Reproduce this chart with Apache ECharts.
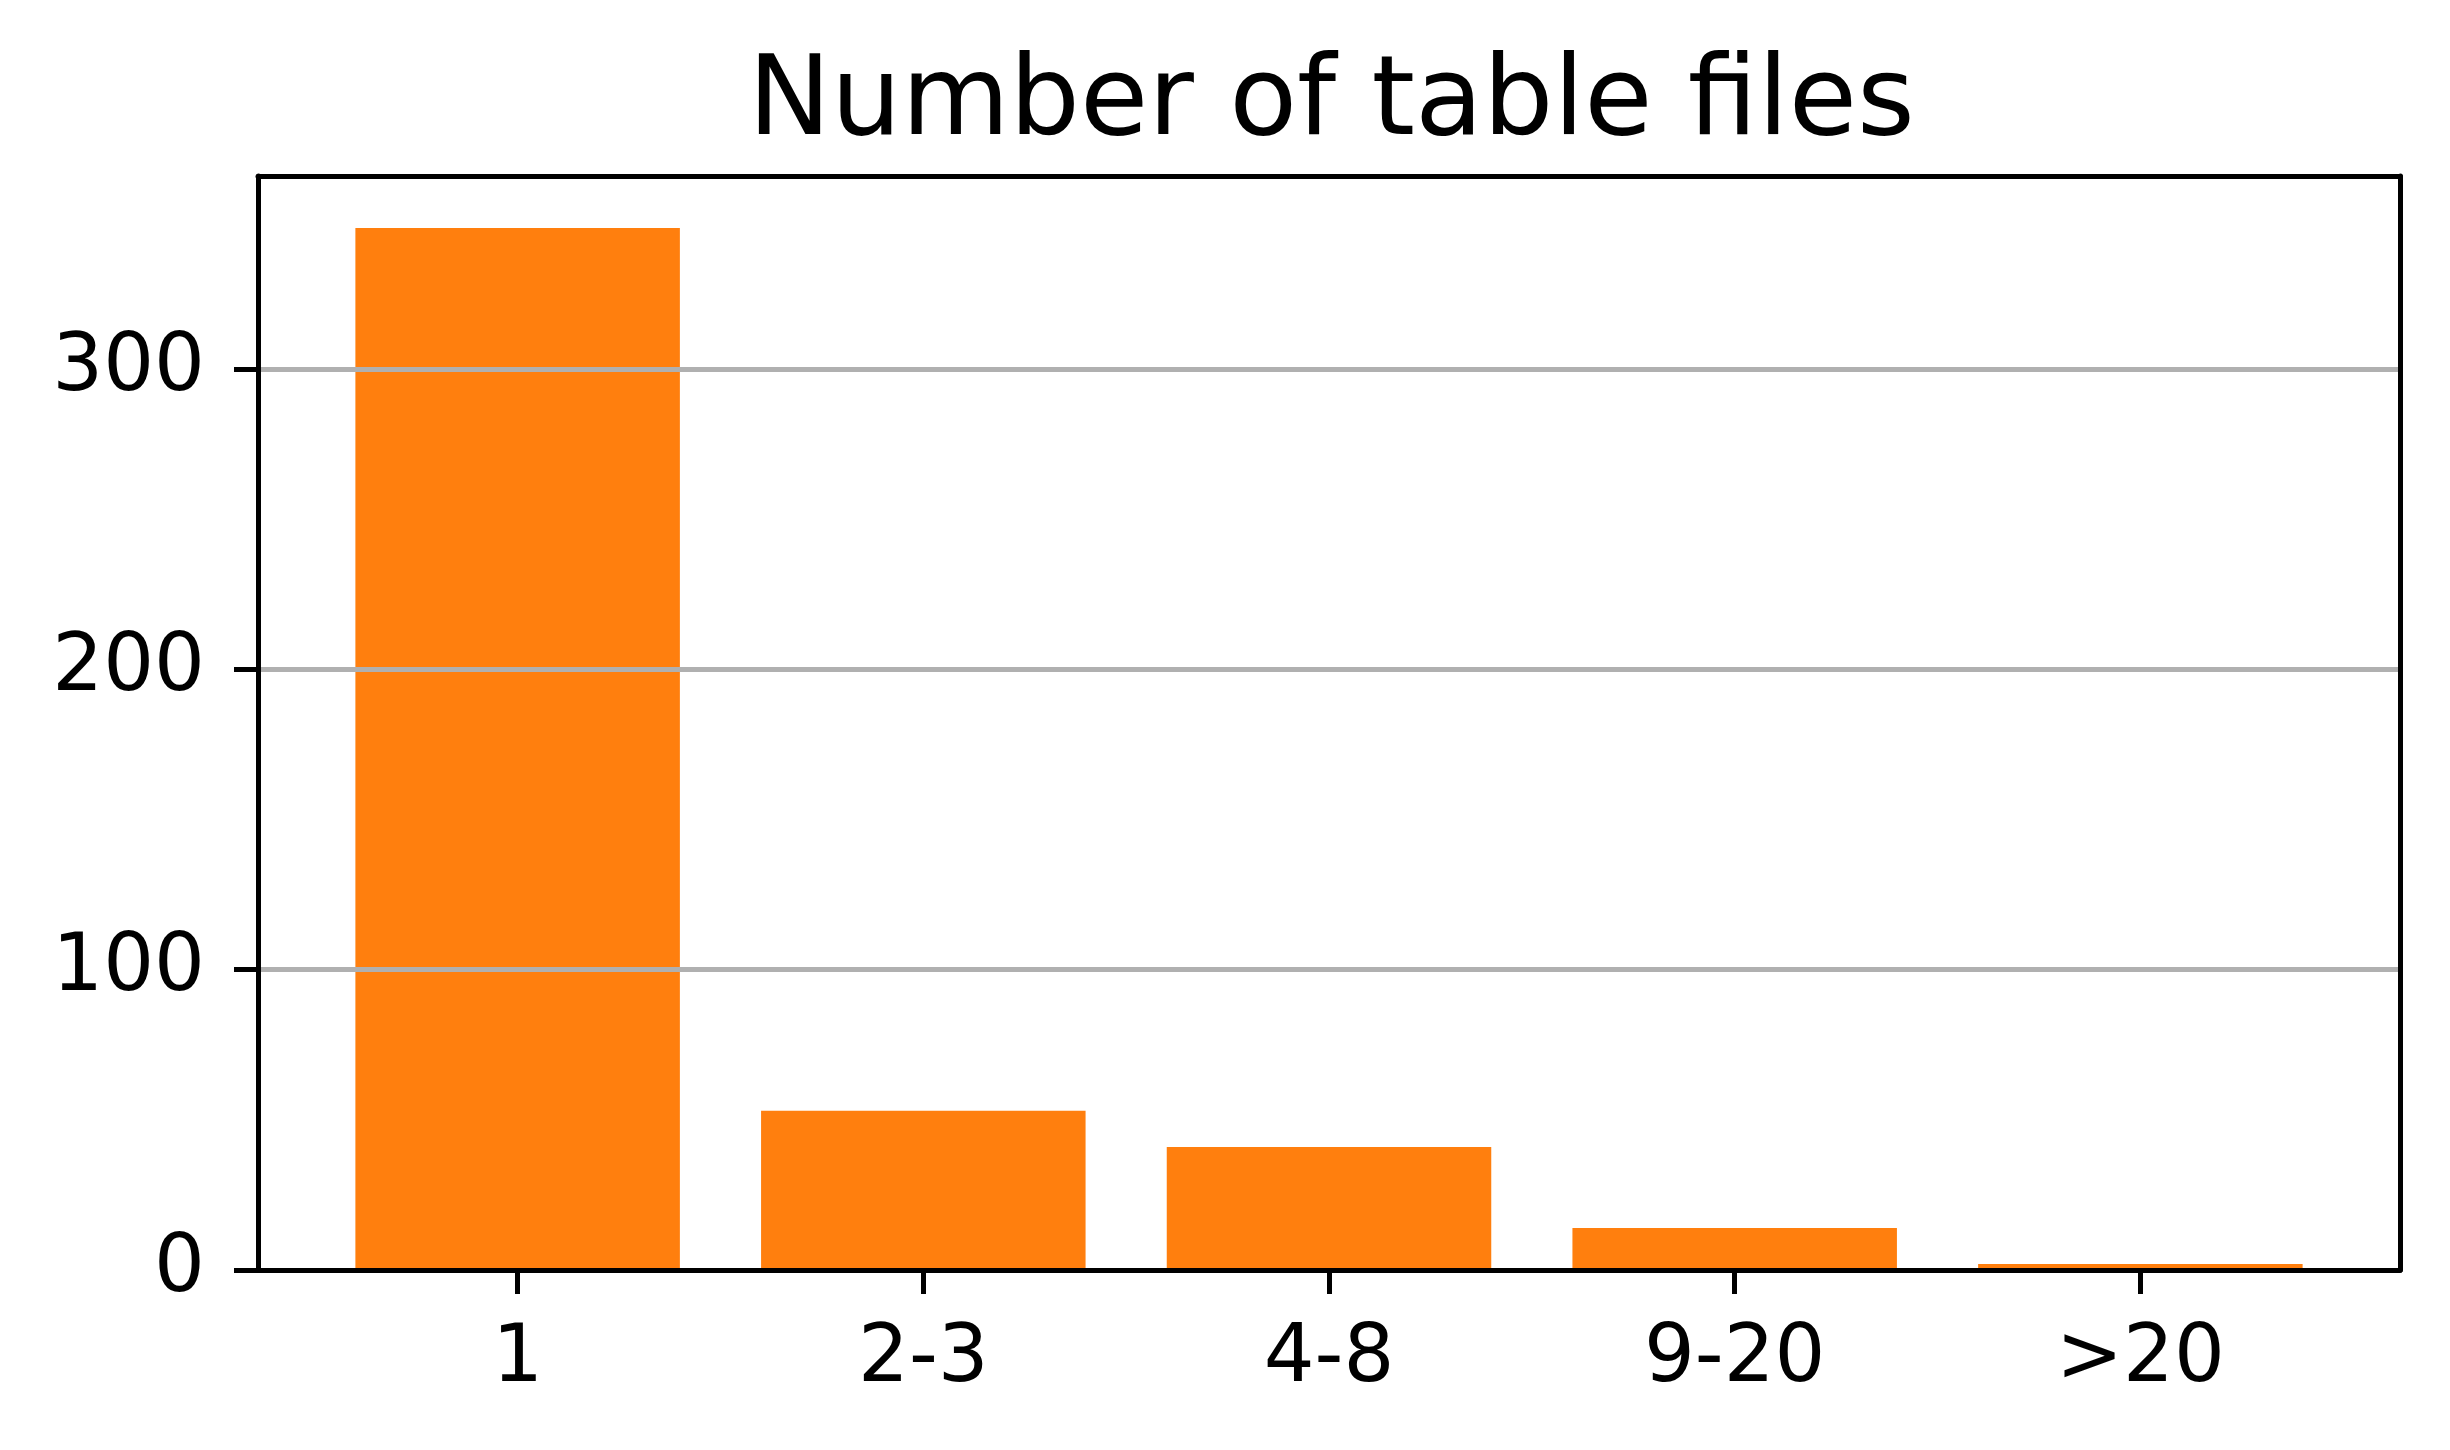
<!DOCTYPE html>
<html>
<head>
<meta charset="utf-8">
<script src="https://cdn.jsdelivr.net/npm/echarts@6/dist/echarts.min.js"></script>
<style>html,body{margin:0;padding:0;background:#fff}#c{width:2450px;height:1450px}</style>
</head>
<body>
<div id="c"></div>
<script>
const categories = ['1', '2-3', '4-8', '9-20', '>20'];
const counts = [347, 53, 41, 14, 2];
const yTicks = [0, 100, 200, 300];
const xPositions = [0, 1, 2, 3, 4];
const titleText = 'Number of table files';

const FONT = 'DejaVu Sans';
const chart = echarts.init(document.getElementById('c'), null, {renderer: 'canvas'});
chart.setOption({
  animation: false,
  backgroundColor: '#ffffff',
  title: {
    text: titleText, left: 748, top: 50, padding: 0,
    textStyle: {fontFamily: FONT, fontSize: 111, fontWeight: 'normal', color: '#000'}
  },
  grid: {left: 258, right: 50, top: 176, bottom: 180, containLabel: false},
  xAxis: [{
    type: 'value', min: -0.64, max: 4.64,
    axisLine: {show: true, onZero: false, lineStyle: {color: '#000', width: 5}},
    axisTick: {show: true, length: 24, inside: false, customValues: xPositions, lineStyle: {color: '#000', width: 5}},
    axisLabel: {show: true, customValues: xPositions, margin: 50, fontFamily: FONT, fontSize: 80, color: '#000',
      formatter: v => categories[Math.round(v)]},
    splitLine: {show: false}, z: 4
  }, {
    type: 'value', position: 'top', min: -0.64, max: 4.64,
    axisLine: {show: true, onZero: false, lineStyle: {color: '#000', width: 5}},
    axisTick: {show: false}, axisLabel: {show: false}, splitLine: {show: false}, z: 5
  }],
  yAxis: [{
    type: 'value', min: 0, max: 364.3,
    axisLine: {show: true, onZero: false, lineStyle: {color: '#000', width: 5}},
    axisTick: {show: true, length: 24, customValues: yTicks, lineStyle: {color: '#000', width: 5}},
    axisLabel: {show: true, customValues: yTicks, margin: 53, fontFamily: FONT, fontSize: 80, color: '#000'},
    splitLine: {show: true, lineStyle: {color: '#b0b0b0', width: 5}},
    z: 3
  }, {
    type: 'value', position: 'right', min: 0, max: 364.3,
    axisLine: {show: true, onZero: false, lineStyle: {color: '#000', width: 5}},
    axisTick: {show: false}, axisLabel: {show: false}, splitLine: {show: false}, z: 5
  }],
  series: [{
    type: 'bar', xAxisIndex: 0, yAxisIndex: 0,
    data: counts.map((v, i) => [xPositions[i], v]),
    barWidth: 324.5,
    itemStyle: {color: '#ff7f0e'}, z: 2
  }]
});
</script>
</body>
</html>
